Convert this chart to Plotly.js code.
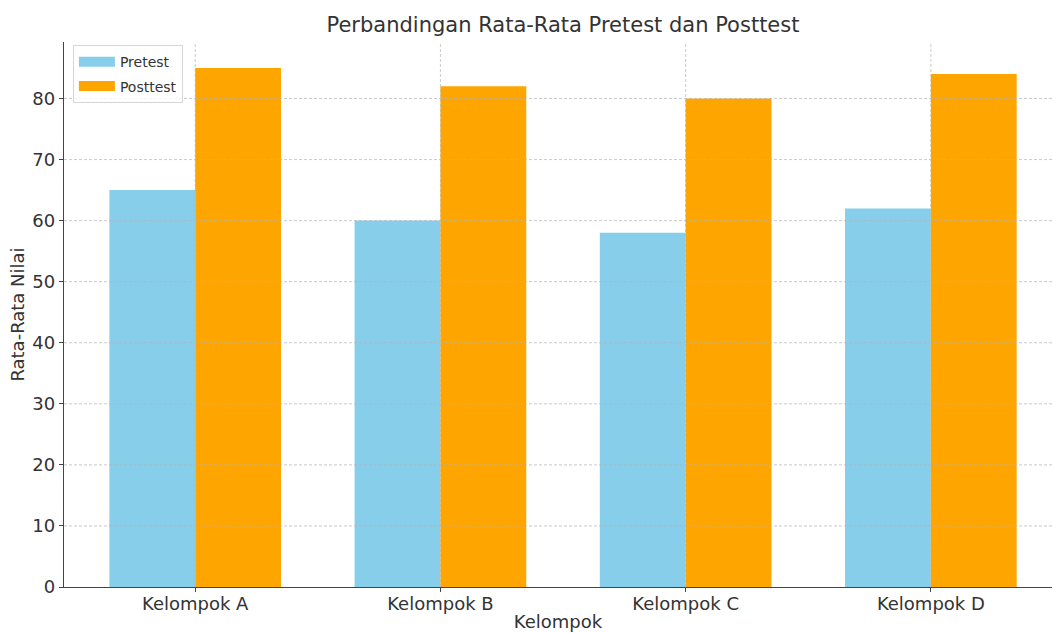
<!DOCTYPE html>
<html>
<head>
<meta charset="utf-8">
<script src="https://cdn.plot.ly/plotly-3.0.1.min.js"></script>
<style>html,body{margin:0;padding:0;background:#fff;}#chart{width:1052px;height:633px;}</style>
</head>
<body>
<div id="chart"></div>
<script>
const categories = ['Kelompok A', 'Kelompok B', 'Kelompok C', 'Kelompok D'];
const pretest = [65, 60, 58, 62];
const posttest = [85, 82, 80, 84];
const yTicks = [0, 10, 20, 30, 40, 50, 60, 70, 80];
const seriesNames = ['Pretest', 'Posttest'];
const seriesColors = ['#87CEEB', '#FFA500'];

const font = 'DejaVu Sans, Verdana, sans-serif';
const traces = [
  {type: 'bar', name: seriesNames[0], x: categories, y: pretest, marker: {color: seriesColors[0]}, showlegend: false},
  {type: 'bar', name: seriesNames[1], x: categories, y: posttest, marker: {color: seriesColors[1]}, showlegend: false}
];
// legend entries drawn as wide patches
seriesNames.forEach((n, i) => {
  traces.push({type: 'scatter', mode: 'lines', name: n, x: [null], y: [null],
    line: {color: seriesColors[i], width: 10}, legendgroup: 'g' + i, hoverinfo: 'skip'});
});

const gridLine = {color: 'rgba(180,180,180,0.7)', width: 1, dash: '3px,2px'};
const shapes = [];
yTicks.filter(v => v > 0).forEach(v => shapes.push({type: 'line', layer: 'above', xref: 'paper', yref: 'y', x0: 0, x1: 1, y0: v, y1: v, line: gridLine}));
categories.forEach(c => shapes.push({type: 'line', layer: 'above', xref: 'x', yref: 'paper', x0: c, x1: c, y0: 0, y1: 1, line: gridLine}));

const layout = {
  width: 1052, height: 633,
  margin: {l: 64, r: 0, t: 42, b: 46},
  paper_bgcolor: '#fff', plot_bgcolor: '#fff',
  font: {family: font, color: '#333', size: 18},
  barmode: 'group', bargap: 0.3, bargroupgap: 0,
  title: {text: 'Perbandingan Rata-Rata Pretest dan Posttest', font: {size: 21, color: '#333'},
          x: 563/1052, xref: 'container', xanchor: 'center', y: 1 - 25/633, yref: 'container', yanchor: 'middle'},
  xaxis: {
    type: 'category', range: [-0.535, 3.494],
    showline: true, linecolor: '#444', linewidth: 1.2,
    ticks: 'outside', ticklen: 4, tickcolor: '#444',
    ticklabelstandoff: -4,
    showgrid: false,
    tickfont: {size: 18, color: '#333'},
    title: {text: 'Kelompok', font: {size: 18, color: '#333'}, standoff: 2},
    zeroline: false, fixedrange: true
  },
  yaxis: {
    range: [0, 89.25], tickvals: yTicks,
    showline: true, linecolor: '#444', linewidth: 1.2,
    ticks: 'outside', ticklen: 4, tickcolor: '#444',
    showgrid: false,
    tickfont: {size: 18, color: '#333'},
    title: {text: 'Rata-Rata Nilai', font: {size: 18, color: '#333'}, standoff: 3},
    zeroline: false, fixedrange: true
  },
  shapes: shapes,
  legend: {
    x: 0.009, y: 0.994, xanchor: 'left', yanchor: 'top',
    bgcolor: 'rgba(255,255,255,0.8)', bordercolor: '#d6d6d6', borderwidth: 1,
    font: {size: 14, color: '#333'}, tracegroupgap: 3, itemwidth: 36
  },
  showlegend: true
};
Plotly.newPlot('chart', traces, layout, {displayModeBar: false, staticPlot: true});
</script>
</body>
</html>
